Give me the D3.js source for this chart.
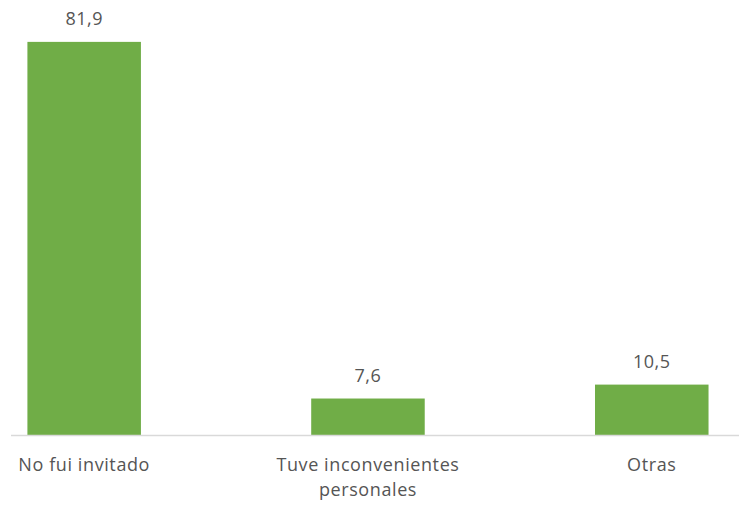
<!DOCTYPE html>
<html>
<head>
<meta charset="utf-8">
<script src="https://cdn.jsdelivr.net/npm/d3@7"></script>
<style>
  html, body { margin: 0; padding: 0; background: #fff; }
  svg { display: block; }
  text { font-family: "Open Sans", "Liberation Sans", sans-serif; fill: #555; }
</style>
</head>
<body>
<svg id="chart" width="744" height="505"></svg>
<script>
// Reasons for not taking part (%)
const categories = ["No fui invitado", "Tuve inconvenientes personales", "Otras"];
const categoryLines = [["No fui invitado"], ["Tuve inconvenientes", "personales"], ["Otras"]];
const values = [81.9, 7.6, 10.5];
const valueLabels = ["81,9", "7,6", "10,5"];

const width = 744, height = 505;
const baseY = 435;
const svg = d3.select("#chart");

const x = d3.scaleBand()
  .domain(categories)
  .range([11, 739])
  .paddingInner(0.6)
  .paddingOuter(0.0826)
  .align(0.35);

const y = d3.scaleLinear()
  .domain([0, 90])
  .range([baseY, 3]);

// bars
svg.append("g")
  .selectAll("rect")
  .data(values)
  .join("rect")
  .attr("x", (d, i) => x(categories[i]))
  .attr("width", x.bandwidth())
  .attr("y", d => y(d))
  .attr("height", d => y(0) - y(d))
  .attr("fill", "#70AD47");

// category axis line
svg.append("line")
  .attr("x1", 11).attr("x2", 739)
  .attr("y1", y(0) + 0.5).attr("y2", y(0) + 0.5)
  .attr("stroke", "#d9d9d9")
  .attr("stroke-width", 1.5);

// value labels
svg.append("g")
  .selectAll("text")
  .data(values)
  .join("text")
  .attr("x", (d, i) => x(categories[i]) + x.bandwidth() / 2)
  .attr("y", d => y(d) - 17)
  .attr("text-anchor", "middle")
  .style("font-size", "18px")
  .style("letter-spacing", "0.5px")
  .text((d, i) => valueLabels[i]);

// category labels
const cat = svg.append("g")
  .selectAll("text")
  .data(categories)
  .join("text")
  .attr("x", d => x(d) + x.bandwidth() / 2)
  .attr("y", 471)
  .attr("text-anchor", "middle")
  .style("font-size", "18px")
  .style("letter-spacing", "0.6px");

cat.selectAll("tspan")
  .data((d, i) => categoryLines[i].map((t, j) => ({ t, j, cx: x(d) + x.bandwidth() / 2 })))
  .join("tspan")
  .attr("x", d => d.cx)
  .attr("dy", d => d.j === 0 ? 0 : 25)
  .text(d => d.t);
</script>
</body>
</html>
